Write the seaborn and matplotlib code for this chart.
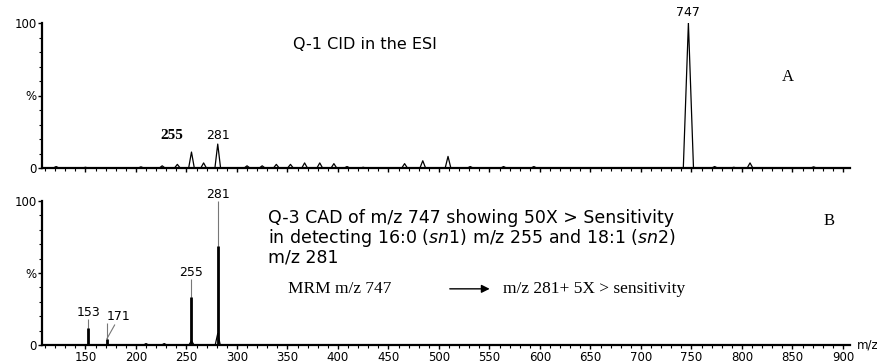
import numpy as np
import pandas as pd
import seaborn as sns
import matplotlib.pyplot as plt
from matplotlib.ticker import MultipleLocator

# Panel A: Q-1 CID in the ESI source (profile peaks, m/z and relative %)
top_mz = [121, 150, 205, 226, 241, 255, 267, 281, 310, 325, 339, 353, 367,
          382, 396, 409, 425, 466, 484, 509, 531, 564, 594, 747, 773, 792,
          808, 871]
top_int = [1, 0.5, 0.8, 1.5, 2.5, 11, 3.5, 16.5, 1.5, 1.5, 2.5, 2.5, 3.5,
           3.5, 3, 1, 0.5, 3, 5, 8, 1, 1, 1, 100, 1, 0.5, 3.5, 0.8]

# Panel B: Q-3 CAD of m/z 747 (centroid sticks)
bot_mz = [153, 171, 255, 281]
bot_int = [18, 15, 46, 100]      # height reached by thin line / label
bot_core = [12, 4, 33, 69]       # solid part of the stick
bot_hump_mz = [210, 228, 255, 281]
bot_hump_int = [1, 1, 3, 8]

xticks = list(range(150, 901, 50))

sns.set_style("ticks")
plt.rcParams['font.family'] = ['DejaVu Sans']
plt.rcParams['mathtext.fontset'] = 'dejavusans'
plt.rcParams['text.color'] = 'black'
plt.rcParams['xtick.color'] = 'black'
plt.rcParams['ytick.color'] = 'black'
plt.rcParams['xtick.labelcolor'] = 'black'
plt.rcParams['ytick.labelcolor'] = 'black'


def profile(mz, inten, hw):
    xs, ys = [107], [0]
    for m, h in zip(mz, inten):
        w = hw * 1.8 if h > 50 else hw
        xs += [m - w, m, m + w]
        ys += [0, h, 0]
    xs.append(907)
    ys.append(0)
    return pd.DataFrame({'mz': xs, 'pct': ys})


def style_axis(ax, show_labels):
    ax.set_xlim(107, 907)
    ax.set_ylim(0, 100)
    sns.despine(ax=ax)
    for s in ['left', 'bottom']:
        ax.spines[s].set_linewidth(1.6)
        ax.spines[s].set_color('black')
    ax.set_xticks(xticks)
    ax.xaxis.set_minor_locator(MultipleLocator(10))
    ax.set_yticks([0, 50, 100])
    ax.set_yticklabels(['0', '%', '100'])
    ax.yaxis.set_minor_locator(MultipleLocator(10))
    ax.tick_params(axis='both', which='major', length=3.2, width=1, color='black',
                   labelsize=8.5, pad=0.8, labelcolor='black')
    ax.tick_params(axis='both', which='minor', length=2, width=0.8, color='black')
    if not show_labels:
        ax.tick_params(axis='x', labelbottom=False)
    ax.set_xlabel('')
    ax.set_ylabel('')


fig = plt.figure(figsize=(8.78, 3.64), dpi=100)
ax1 = fig.add_axes([42 / 878, 196 / 364, 808 / 878, 145 / 364])
ax2 = fig.add_axes([42 / 878, 19 / 364, 808 / 878, 144 / 364])

# ---- panel A ----
df_top = profile(top_mz, top_int, 2.8)
sns.lineplot(data=df_top, x='mz', y='pct', sort=False, estimator=None,
             color='black', lw=0.9, ax=ax1)
style_axis(ax1, False)
ax1.text(747, 103, '747', ha='center', va='bottom', fontsize=9)
ax1.text(281, 18, '281', ha='center', va='bottom', fontsize=9)
ax1.text(236, 18, '255', ha='center', va='bottom', fontsize=11,
         family='Liberation Serif', fontweight='bold')
ax1.text(356, 85, 'Q-1 CID in the ESI', ha='left', va='center', fontsize=11.5)
ax1.text(845, 63, 'A', ha='center', va='center', fontsize=12,
         family='Liberation Serif')

# ---- panel B ----
df_hump = profile(bot_hump_mz, bot_hump_int, 2.5)
sns.lineplot(data=df_hump, x='mz', y='pct', sort=False, estimator=None,
             color='black', lw=0.9, ax=ax2)
ax2.vlines(bot_mz, 0, bot_int, color='#777777', lw=0.8)
ax2.vlines(bot_mz, 0, bot_core, color='black', lw=2)
style_axis(ax2, True)
for m, h in zip(bot_mz, bot_int):
    if m == 171:
        ax2.plot([m, m + 8], [bot_core[1], h - 1], color='#777777', lw=0.8)
        ax2.text(m + 12, h, str(m), ha='center', va='bottom', fontsize=9)
    else:
        ax2.text(m, h, str(m), ha='center', va='bottom', fontsize=9)

ax2.text(331, 88, 'Q-3 CAD of m/z 747 showing 50X > Sensitivity',
         ha='left', va='center', fontsize=12.5)
ax2.text(331, 74.5, r'in detecting 16:0 (${\it sn}$1) m/z 255 and 18:1 (${\it sn}$2)',
         ha='left', va='center', fontsize=12.5)
ax2.text(331, 61, 'm/z 281', ha='left', va='center', fontsize=12.5)
ax2.text(351, 39, 'MRM m/z 747', ha='left', va='center', fontsize=12.5,
         family='Liberation Serif')
ax2.annotate('', xy=(553, 39), xytext=(508, 39),
             arrowprops=dict(arrowstyle='-|>', color='black', lw=1,
                             mutation_scale=12))
ax2.text(563, 39, 'm/z 281+ 5X > sensitivity', ha='left', va='center',
         fontsize=12.5, family='Liberation Serif')
ax2.text(886, 86, 'B', ha='center', va='center', fontsize=12,
         family='Liberation Serif')
ax2.text(1.008, 0, 'm/z', transform=ax2.transAxes, ha='left', va='center',
         fontsize=8.5)

fig.savefig('out.png', dpi=100)
